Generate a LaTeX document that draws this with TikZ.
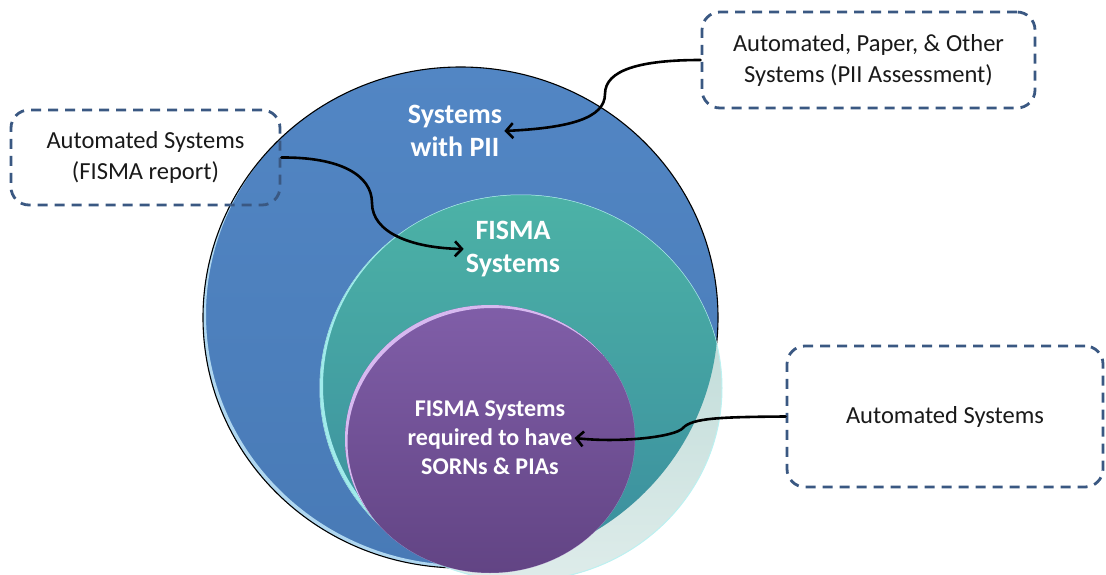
\documentclass[tikz,border=0pt]{standalone}
\usepackage{fontspec}
\setmainfont{Carlito}
\usetikzlibrary{arrows.meta,calc}

\definecolor{boxline}{RGB}{58,88,130}
\definecolor{notetext}{RGB}{25,25,25}
\definecolor{piitop}{RGB}{82,134,196}
\definecolor{piibot}{RGB}{72,122,182}
\definecolor{piirim}{RGB}{175,215,240}
\definecolor{fismatop}{RGB}{76,178,166}
\definecolor{fismabot}{RGB}{58,140,158}
\definecolor{fismarim}{RGB}{160,235,235}
\definecolor{paletop}{RGB}{178,212,208}
\definecolor{palebot}{RGB}{222,236,234}
\definecolor{sorntop}{RGB}{128,94,168}
\definecolor{sornbot}{RGB}{98,68,132}
\definecolor{sornrim}{RGB}{215,185,240}

\begin{document}
\begin{tikzpicture}[x=1pt,y=-1pt,
  note/.style={draw=boxline, line width=2.8pt, dash pattern=on 10pt off 7pt,
    rounded corners=18pt, align=center, text=notetext, inner sep=0pt,
    font=\fontsize{24.5}{31}\selectfont},
  setlabel/.style={text=white, align=center, inner sep=2pt,
    font=\bfseries\fontsize{28}{33}\selectfont},
  link/.style={line width=2.6pt, line cap=round,
    -{Straight Barb[length=7pt,width=15pt,line width=2.6pt]}}]
\useasboundingbox (0,0) rectangle (1106,575);

% outer set: systems with PII
\shade[top color=piitop, bottom color=piibot]
  (460.5,317.5) ellipse [x radius=257.5pt, y radius=250.5pt];
\begin{scope}
  \clip (460.5,317.5) ellipse [x radius=257.5pt, y radius=250.5pt];
  \fill[piirim, even odd rule]
    (460.5,317.5) ellipse [x radius=257.5pt, y radius=250.5pt]
    (463.5,314.5) ellipse [x radius=257.5pt, y radius=250.5pt];
\end{scope}
\draw[black, line width=1.1pt]
  (460.5,317.5) ellipse [x radius=257.5pt, y radius=250.5pt];

% middle set: FISMA systems (pale where it leaves the outer set)
\shade[top color=paletop, bottom color=palebot]
  (521,388) ellipse [x radius=201pt, y radius=193pt];
\draw[fismarim!70!white, line width=1pt]
  (521,388) ellipse [x radius=201pt, y radius=193pt];
\begin{scope}
  \clip (460.5,317.5) ellipse [x radius=257.5pt, y radius=250.5pt];
  \shade[top color=fismatop, bottom color=fismabot]
    (521,388) ellipse [x radius=201pt, y radius=193pt];
  \begin{scope}
    \clip (521,388) ellipse [x radius=201pt, y radius=193pt];
    \fill[fismarim, even odd rule]
      (521,388) ellipse [x radius=201pt, y radius=193pt]
      (524,386) ellipse [x radius=201pt, y radius=193pt];
  \end{scope}
\end{scope}

% inner set: systems needing SORNs and PIAs
\shade[top color=sorntop, bottom color=sornbot]
  (490,439) ellipse [x radius=145pt, y radius=134pt];
\begin{scope}
  \clip (490,439) ellipse [x radius=145pt, y radius=134pt];
  \fill[sornrim, even odd rule]
    (490,439) ellipse [x radius=145pt, y radius=134pt]
    (492.5,442) ellipse [x radius=145pt, y radius=134pt];
\end{scope}

% set labels
\node[setlabel] (pii) at (455,131) {Systems\\with PII};
\node[setlabel] (fisma) at (513,249) {FISMA\\Systems};
\node[setlabel, font=\bfseries\fontsize{24}{29}\selectfont] (sorn) at (490,438)
  {FISMA Systems\\required to have\\SORNs \& PIAs};

% source notes
\node[note, minimum width=269pt, minimum height=95pt] (fismanote) at (145.5,157.5)
  {Automated Systems\\(FISMA report)};
\node[note, minimum width=333pt, minimum height=96pt] (piinote) at (868.5,60)
  {Automated, Paper, \& Other\\Systems (PII Assessment)};
\node[note, minimum width=316pt, minimum height=141pt] (autonote) at (945,416.5)
  {Automated Systems};

% connectors
\draw[link] (piinote.west) .. controls (640,60) and (605,70) .. (605,94)
  .. controls (605,118) and (570,128) .. (pii.east);
\draw[link] (fismanote.east) .. controls (340,157) and (372,175) .. (372,203)
  .. controls (372,232) and (410,248) .. (fisma.west);
\draw[link] (autonote.west) .. controls (720,417) and (692,418) .. (683,428)
  .. controls (675,437) and (620,443) .. (sorn.east);
\end{tikzpicture}
\end{document}
